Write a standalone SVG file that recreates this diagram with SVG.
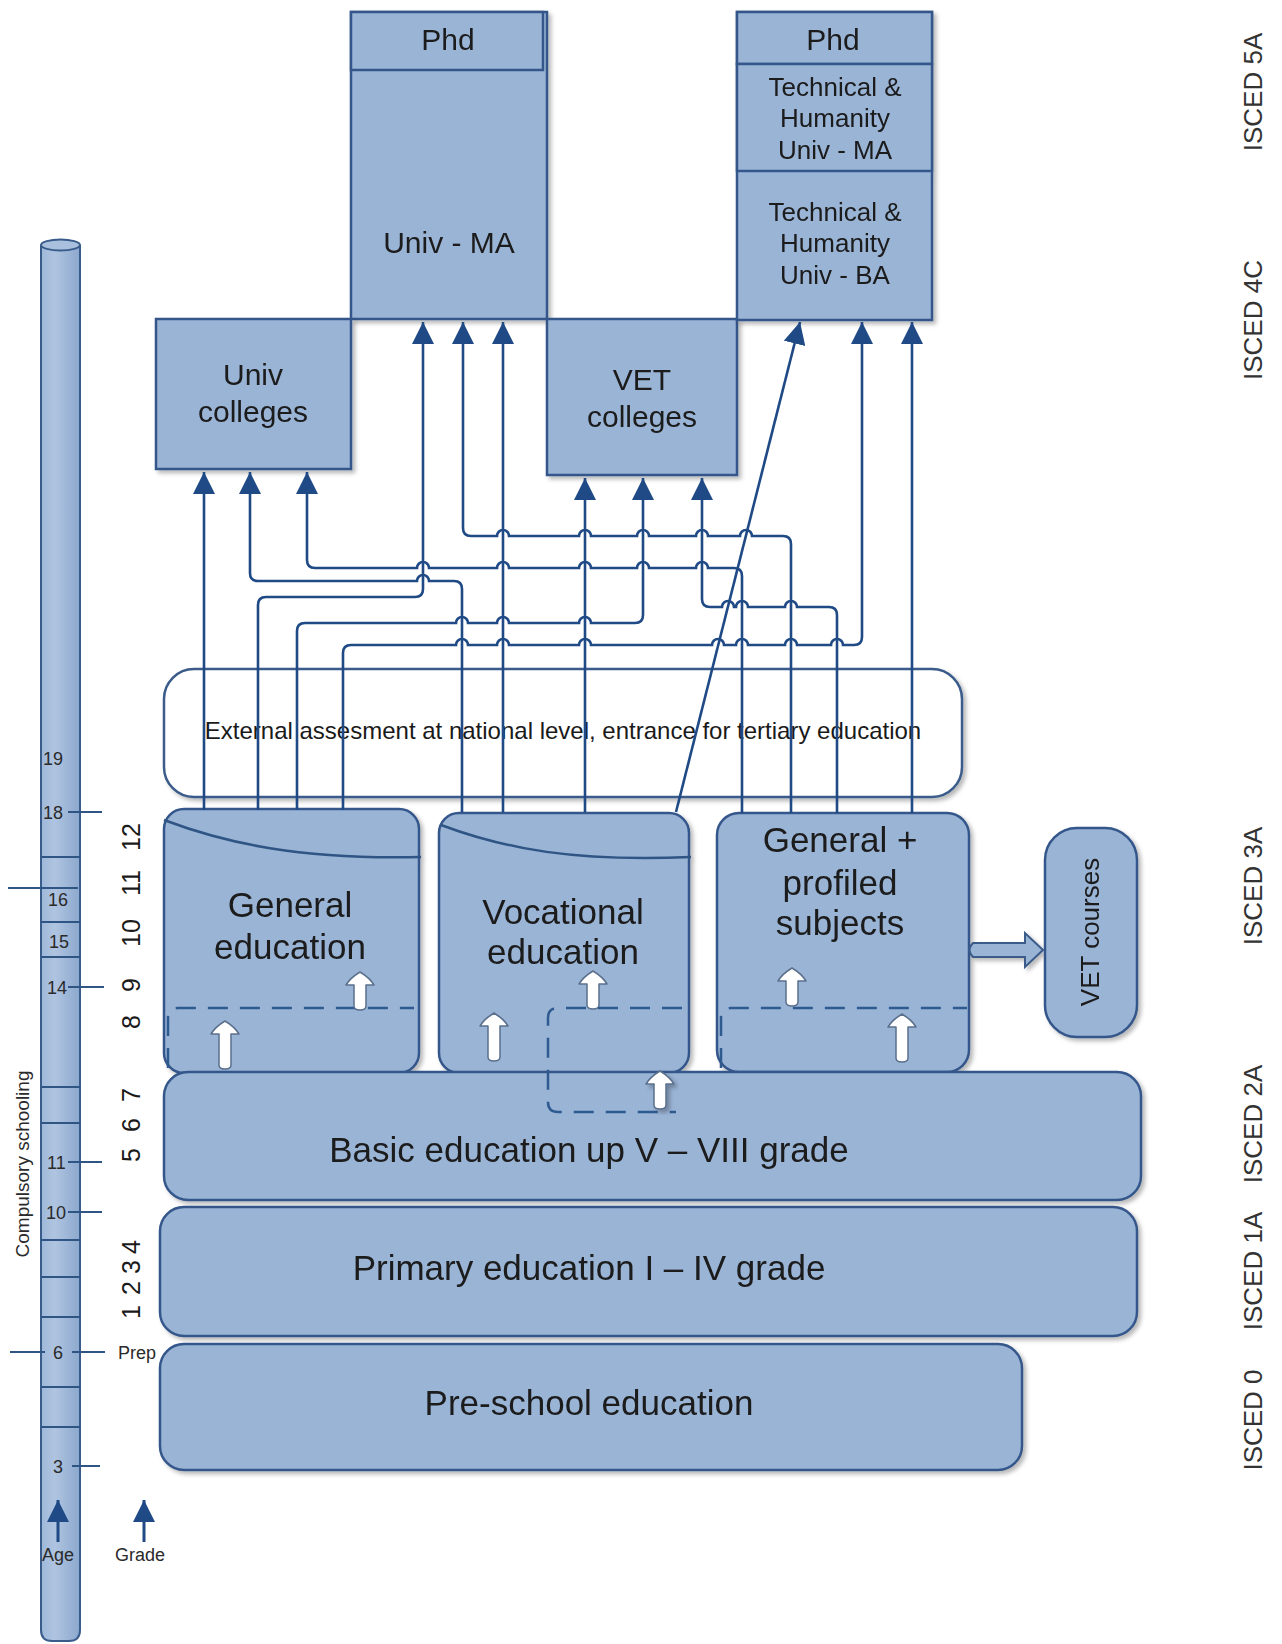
<svg xmlns="http://www.w3.org/2000/svg" width="1282" height="1644" viewBox="0 0 1282 1644">
<style>
.box{fill:#9AB4D6;stroke:#35578A;stroke-width:2.5}
.t{font-family:"Liberation Sans",Arial,sans-serif;fill:#1a1a1a;text-anchor:middle}
.big{font-size:35px}
.mid{font-size:30px}
.sm{font-size:26px}
.age{font-family:"Liberation Sans",Arial,sans-serif;fill:#2a2a2a;font-size:18px}
.tick{stroke:#2F5584;stroke-width:1.8;fill:none}
.conn{fill:none;stroke:#1F4A85;stroke-width:2.6}
.dash{fill:none;stroke:#2F5A8F;stroke-width:2.5;stroke-dasharray:20 12}
.isced{font-family:"Liberation Sans",Arial,sans-serif;fill:#333;font-size:26px;text-anchor:middle}
.wa{fill:#fff;stroke:#5a6f8c;stroke-width:1.5;stroke-linejoin:round}
</style>
<defs>
<linearGradient id="cyl" x1="0" y1="0" x2="1" y2="0">
<stop offset="0" stop-color="#9FB8D9"/>
<stop offset="0.35" stop-color="#AFC4E0"/>
<stop offset="1" stop-color="#8CA8CE"/>
</linearGradient>
<filter id="sh" x="-10%" y="-10%" width="125%" height="125%">
<feDropShadow dx="3" dy="3" stdDeviation="2" flood-color="#000" flood-opacity="0.28"/>
</filter>
<marker id="ah" viewBox="0 0 22 22" refX="22" refY="11" markerWidth="22" markerHeight="22" markerUnits="userSpaceOnUse" orient="auto">
<path d="M0,0 L22,11 L0,22 Z" fill="#1F4A85"/>
</marker>
<path id="wS" d="M0,0 C5,3 11,8 14,13 L6,13 L6,34 Q6,38 0,38 Q-6,38 -6,34 L-6,13 L-14,13 C-11,8 -5,3 0,0 Z"/>
<path id="wL" d="M0,0 C5,3 11,8 14,13 L6,13 L6,44 Q6,48 0,48 Q-6,48 -6,44 L-6,13 L-14,13 C-11,8 -5,3 0,0 Z"/>
</defs>
<rect width="1282" height="1644" fill="#fff"/>

<g id="age-bar">
<path d="M41,245 L41,1630 Q41,1641 52,1641 L69,1641 Q80,1641 80,1630 L80,245" fill="url(#cyl)" stroke="#3A5C8A" stroke-width="2"/>
<ellipse cx="60.5" cy="245" rx="19.5" ry="5.5" fill="#A9C0DE" stroke="#3A5C8A" stroke-width="2"/>
<path class="tick" d="M68,812 H102 M41,857 H80 M8,888 H78 M41,922 H80 M41,957 H80 M68,987 H104 M41,1087 H80 M41,1123 H80 M68,1162 H102 M68,1212 H102 M41,1240 H80 M41,1277 H80 M41,1317 H80 M10,1352 H45 M72,1352 H105 M41,1387 H80 M41,1427 H80 M72,1466 H100"/>
<text class="age" x="43" y="765">19</text>
<text class="age" x="43" y="819">18</text>
<text class="age" x="48" y="906" font-size="17">16</text>
<text class="age" x="49" y="948" font-size="17">15</text>
<text class="age" x="47" y="994">14</text>
<text class="age" x="47" y="1169">11</text>
<text class="age" x="46" y="1219">10</text>
<text class="age" x="53" y="1359">6</text>
<text class="age" x="53" y="1473">3</text>
<text class="age" x="118" y="1359">Prep</text>
<text x="23" y="1164" transform="rotate(-90 23 1164)" style="font-family:'Liberation Sans',Arial,sans-serif;font-size:19px;fill:#2a2a2a;text-anchor:middle" dy="6">Compulsory schooling</text>
<path d="M58,1542 V1500" stroke="#1F4A85" stroke-width="3" marker-end="url(#ah)"/>
<path d="M144,1542 V1500" stroke="#1F4A85" stroke-width="3" marker-end="url(#ah)"/>
<text class="age" x="58" y="1561" text-anchor="middle" font-size="19">Age</text>
<text class="age" x="140" y="1561" text-anchor="middle" font-size="19">Grade</text>
</g>

<g id="grades" style="font-family:'Liberation Sans',Arial,sans-serif;font-size:25px;fill:#1a1a1a;text-anchor:middle">
<text x="131" y="846" transform="rotate(-90 131 837)">12</text>
<text x="131" y="892" transform="rotate(-90 131 883)">11</text>
<text x="131" y="942" transform="rotate(-90 131 933)">10</text>
<text x="131" y="994" transform="rotate(-90 131 985)">9</text>
<text x="131" y="1031" transform="rotate(-90 131 1022)">8</text>
<text x="131" y="1104" transform="rotate(-90 131 1095)">7</text>
<text x="131" y="1134" transform="rotate(-90 131 1125)">6</text>
<text x="131" y="1164" transform="rotate(-90 131 1155)">5</text>
<text x="131" y="1256" transform="rotate(-90 131 1247)">4</text>
<text x="131" y="1276" transform="rotate(-90 131 1267)">3</text>
<text x="131" y="1297" transform="rotate(-90 131 1288)">2</text>
<text x="131" y="1321" transform="rotate(-90 131 1312)">1</text>
</g>

<g id="isced">
<text class="isced" x="1253" y="101" transform="rotate(-90 1253 92)">ISCED 5A</text>
<text class="isced" x="1253" y="329" transform="rotate(-90 1253 320)">ISCED 4C</text>
<text class="isced" x="1253" y="895" transform="rotate(-90 1253 886)">ISCED 3A</text>
<text class="isced" x="1253" y="1133" transform="rotate(-90 1253 1124)">ISCED 2A</text>
<text class="isced" x="1253" y="1280" transform="rotate(-90 1253 1271)">ISCED 1A</text>
<text class="isced" x="1253" y="1429" transform="rotate(-90 1253 1420)">ISCED 0</text>
</g>

<g id="univ-ma" filter="url(#sh)">
<rect class="box" x="351" y="12" width="196" height="307"/>
<rect class="box" x="351" y="12" width="192" height="58"/>
<text class="t mid" x="448" y="50">Phd</text>
<text class="t mid" x="449" y="253">Univ - MA</text>
</g>

<g id="univ-colleges" filter="url(#sh)">
<rect class="box" x="156" y="319" width="195" height="150"/>
<text class="t mid" x="253" y="385">Univ</text>
<text class="t mid" x="253" y="422">colleges</text>
</g>

<g id="vet-colleges" filter="url(#sh)">
<rect class="box" x="547" y="319" width="190" height="156"/>
<text class="t mid" x="642" y="390">VET</text>
<text class="t mid" x="642" y="427">colleges</text>
</g>

<g id="tech-univ" filter="url(#sh)">
<rect class="box" x="737" y="12" width="195" height="308"/>
<rect class="box" x="737" y="12" width="195" height="52"/>
<rect class="box" x="737" y="64" width="195" height="107"/>
<text class="t mid" x="833" y="50">Phd</text>
<text class="t sm" x="835" y="96">Technical &amp;</text>
<text class="t sm" x="835" y="127">Humanity</text>
<text class="t sm" x="835" y="159">Univ - MA</text>
<text class="t sm" x="835" y="221">Technical &amp;</text>
<text class="t sm" x="835" y="252">Humanity</text>
<text class="t sm" x="835" y="284">Univ - BA</text>
</g>

<g id="external">
<rect x="164" y="669" width="798" height="128" rx="30" fill="#fff" stroke="#3A5C8A" stroke-width="2.5" filter="url(#sh)"/>
<text class="t" x="563" y="739" font-size="24">External assesment at national level, entrance for tertiary education</text>
</g>

<g id="general-education" filter="url(#sh)">
<rect class="box" x="164" y="809" width="255" height="264" rx="20"/>
<path d="M164,820 C225,843 300,860 421,857" fill="none" stroke="#2F5584" stroke-width="2.5"/>
<text class="t big" x="290" y="917">General</text>
<text class="t big" x="290" y="959">education</text>
<path class="dash" d="M168,1068 L168,1018 Q168,1008 178,1008 L414,1008"/>
<use href="#wL" class="wa" x="225" y="1021"/>
<use href="#wS" class="wa" x="360" y="972"/>
</g>

<g id="vocational-education" filter="url(#sh)">
<rect class="box" x="439" y="813" width="250" height="260" rx="20"/>
<path d="M441,825 C505,849 575,862 691,857" fill="none" stroke="#2F5584" stroke-width="2.5"/>
<text class="t big" x="563" y="924">Vocational</text>
<text class="t big" x="563" y="964">education</text>
<use href="#wL" class="wa" x="494" y="1013"/>
<use href="#wS" class="wa" x="593" y="971"/>
</g>

<g id="general-profiled" filter="url(#sh)">
<rect class="box" x="717" y="813" width="252" height="259" rx="22"/>
<text class="t big" x="840" y="852">General +</text>
<text class="t big" x="840" y="895">profiled</text>
<text class="t big" x="840" y="935">subjects</text>
<path class="dash" d="M721,1068 L721,1018 Q721,1008 731,1008 L967,1008"/>
<use href="#wS" class="wa" x="792" y="968"/>
<use href="#wL" class="wa" x="902" y="1014"/>
</g>

<g id="vet-courses" filter="url(#sh)">
<path d="M973,943 L1025,943 L1025,933 L1043,950 L1025,967 L1025,957 L973,957 Q966,950 973,943 Z" fill="#9AB4D6" stroke="#3A5C8A" stroke-width="2"/>
<rect class="box" x="1045" y="828" width="92" height="209" rx="32"/>
<text class="t sm" x="1090" y="941" transform="rotate(-90 1090 932)">VET courses</text>
</g>

<g id="basic-education" filter="url(#sh)">
<rect class="box" x="164" y="1072" width="977" height="128" rx="24"/>
<text class="t big" x="589" y="1162">Basic education up V – VIII grade</text>
</g>

<g id="vocational-dashed">
<path class="dash" d="M682,1008 L558,1008 Q548,1008 548,1018 L548,1102 Q548,1112 558,1112 L676,1112"/>
<use href="#wS" class="wa" x="660" y="1071" filter="url(#sh)"/>
</g>

<g id="primary-education" filter="url(#sh)">
<rect class="box" x="160" y="1207" width="977" height="129" rx="24"/>
<text class="t big" x="589" y="1280">Primary education I – IV grade</text>
</g>

<g id="pre-school" filter="url(#sh)">
<rect class="box" x="160" y="1344" width="862" height="126" rx="24"/>
<text class="t big" x="589" y="1415">Pre-school education</text>
</g>

<g id="connectors" class="conn" marker-end="url(#ah)">
<path d="M204,810 L204,472"/>
<path d="M258,810 L258,605 Q258,597 266,597 L415,597 Q423,597 423,589 L423,322"/>
<path d="M297,810 L297,631 Q297,623 305,623 L456,623 A6,6 0 0 1 468,623 L497,623 A6,6 0 0 1 509,623 L579,623 A6,6 0 0 1 591,623 L635,623 Q643,623 643,615 L643,478"/>
<path d="M343,810 L343,653 Q343,645 351,645 L456,645 A6,6 0 0 1 468,645 L497,645 A6,6 0 0 1 509,645 L579,645 A6,6 0 0 1 591,645 L712,645 A6,6 0 0 1 724,645 L736,645 A6,6 0 0 1 748,645 L785,645 A6,6 0 0 1 797,645 L831,645 A6,6 0 0 1 843,645 L854,645 Q862,645 862,637 L862,322"/>
<path d="M462,812 L462,589 Q462,581 454,581 L429,581 A6,6 0 0 0 417,581 L258,581 Q250,581 250,573 L250,472"/>
<path d="M503,812 L503,322"/>
<path d="M585,812 L585,478"/>
<path d="M676,812 L800,322"/>
<path d="M742,813 L742,576 Q742,568 734,568 L708,568 A6,6 0 0 0 696,568 L649,568 A6,6 0 0 0 637,568 L591,568 A6,6 0 0 0 579,568 L509,568 A6,6 0 0 0 497,568 L429,568 A6,6 0 0 0 417,568 L315,568 Q307,568 307,560 L307,472"/>
<path d="M791,813 L791,544 Q791,536 783,536 L752,536 A6,6 0 0 0 740,536 L708,536 A6,6 0 0 0 696,536 L649,536 A6,6 0 0 0 637,536 L591,536 A6,6 0 0 0 579,536 L509,536 A6,6 0 0 0 497,536 L471,536 Q463,536 463,528 L463,322"/>
<path d="M837,813 L837,615 Q837,607 829,607 L797,607 A6,6 0 0 0 785,607 L748,607 A6,6 0 0 0 736,607 L734,607 A6,6 0 0 0 722,607 L710,607 Q702,607 702,599 L702,478"/>
<path d="M912,813 L912,322"/>
</g>
</svg>
